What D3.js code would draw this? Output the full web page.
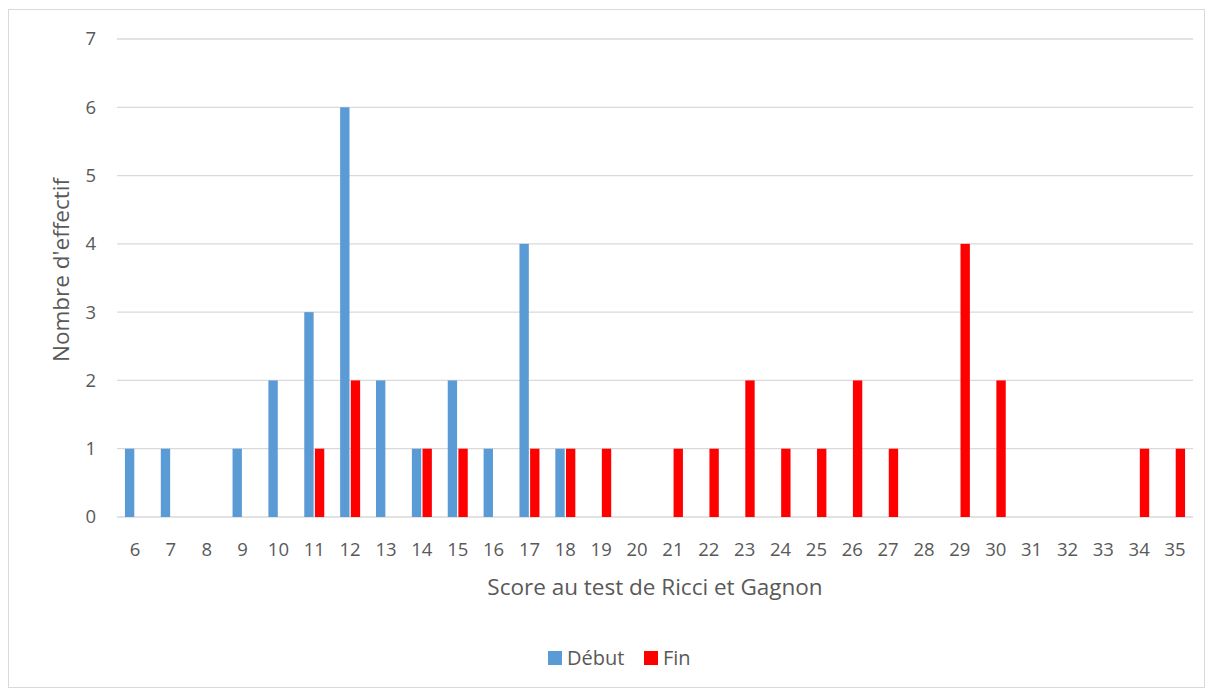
<!DOCTYPE html>
<html>
<head>
<meta charset="utf-8">
<script src="https://cdn.jsdelivr.net/npm/d3@7"></script>
<style>
  body { margin: 0; background: #fff; }
  svg { font-family: "Open Sans", "Liberation Sans", sans-serif; }
</style>
</head>
<body>
<svg id="chart" width="1210" height="692"></svg>
<script>
const scores = d3.range(6, 36).map(String);
const debut = [1,1,0,1,2,3,6,2,1,2,1,4,1,0,0,0,0,0,0,0,0,0,0,0,0,0,0,0,0,0];
const fin   = [0,0,0,0,0,1,2,0,1,1,0,1,1,1,0,1,1,2,1,1,2,1,0,4,2,0,0,0,1,1];
const yTicks = [0,1,2,3,4,5,6,7];
const seriesNames = ["Début", "Fin"];
const colors = ["#5b9bd5", "#ff0000"];

const svg = d3.select("#chart");
const margin = {left: 117, right: 17, top: 39, bottom: 175};
const width = 1210, height = 692;

svg.append("rect")
    .attr("x", 8.5).attr("y", 9.5)
    .attr("width", 1196).attr("height", 678)
    .attr("fill", "#fff").attr("stroke", "#d9d9d9");

const x = d3.scaleBand().domain(scores)
    .range([margin.left, width - margin.right]);
const x1 = d3.scaleBand().domain(seriesNames)
    .range([0, 20]).paddingInner(0.12);
const y = d3.scaleLinear().domain([0, 7]).range([height - margin.bottom, margin.top]);

// gridlines
svg.append("g")
    .selectAll("line")
    .data(yTicks)
    .enter().append("line")
    .attr("x1", margin.left).attr("x2", width - margin.right)
    .attr("y1", d => y(d)).attr("y2", d => y(d))
    .attr("stroke", "#d9d9d9").attr("stroke-width", 1.3);

// y tick labels
svg.append("g")
    .attr("text-anchor", "end")
    .selectAll("text")
    .data(yTicks)
    .enter().append("text")
    .attr("x", 96)
    .attr("y", d => y(d))
    .attr("dy", "0.35em")
    .attr("font-size", 18.5)
    .attr("fill", "#595959")
    .text(d => d);

// bars
const series = [debut, fin];
const groups = svg.append("g")
    .selectAll("g")
    .data(scores)
    .enter().append("g")
    .attr("transform", d => `translate(${x(d) + x.bandwidth() / 2 - 10},0)`);

groups.selectAll("rect")
    .data((d, i) => seriesNames.map((s, j) => ({s, v: series[j][i], c: colors[j]})))
    .enter().append("rect")
    .filter(d => d.v > 0)
    .attr("x", d => x1(d.s))
    .attr("width", x1.bandwidth())
    .attr("y", d => y(d.v))
    .attr("height", d => y(0) - y(d.v))
    .attr("fill", d => d.c);

// x tick labels
svg.append("g")
    .attr("text-anchor", "middle")
    .selectAll("text")
    .data(scores)
    .enter().append("text")
    .attr("x", d => x(d) + x.bandwidth() / 2)
    .attr("y", 556)
    .attr("font-size", 18.5)
    .attr("fill", "#595959")
    .text(d => d);

// axis titles
svg.append("text")
    .attr("x", (margin.left + width - margin.right) / 2)
    .attr("y", 595)
    .attr("text-anchor", "middle")
    .attr("font-size", 22.5)
    .attr("fill", "#595959")
    .text("Score au test de Ricci et Gagnon");

svg.append("text")
    .attr("transform", `translate(69,${(y(0) + y(7)) / 2 - 8})rotate(-90)`)
    .attr("text-anchor", "middle")
    .attr("font-size", 22.5)
    .attr("fill", "#595959")
    .text("Nombre d'effectif");

// legend
const legend = svg.append("g");
const items = [{n: "Début", c: colors[0], x: 548}, {n: "Fin", c: colors[1], x: 644}];
legend.selectAll("rect")
    .data(items).enter().append("rect")
    .attr("x", d => d.x).attr("y", 651)
    .attr("width", 14).attr("height", 14)
    .attr("fill", d => d.c);
legend.selectAll("text")
    .data(items).enter().append("text")
    .attr("x", d => d.x + 19).attr("y", 658)
    .attr("dy", "0.35em")
    .attr("font-size", 20)
    .attr("fill", "#595959")
    .text(d => d.n);
</script>
</body>
</html>
